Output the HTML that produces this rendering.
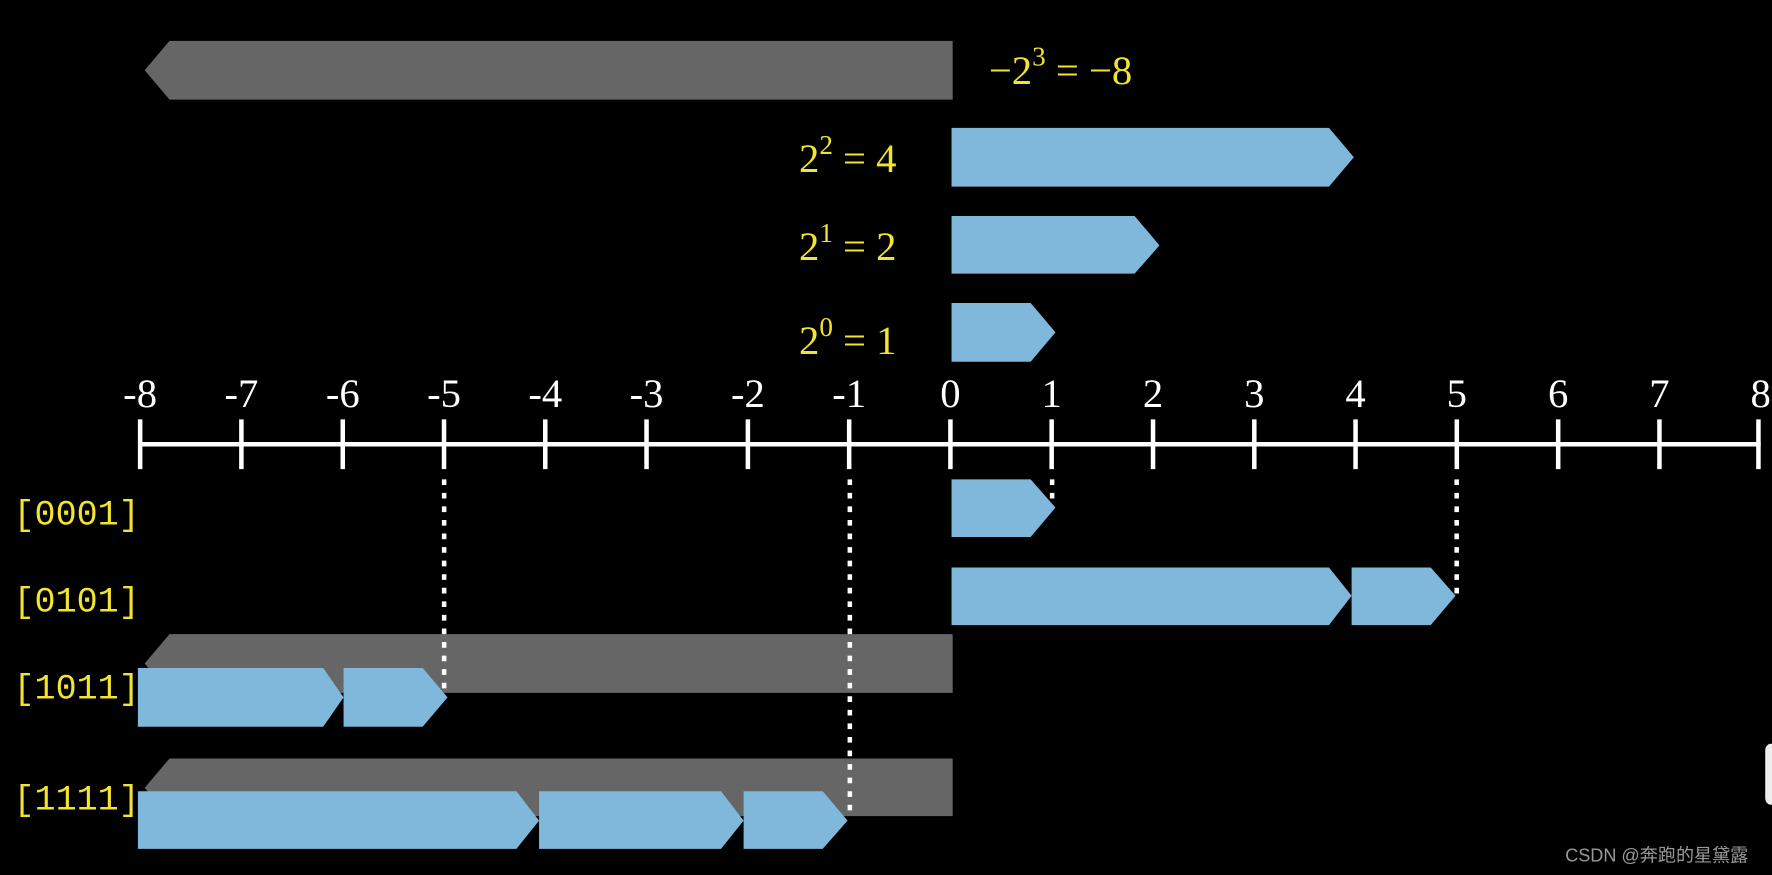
<!DOCTYPE html>
<html><head><meta charset="utf-8"><style>
html,body{margin:0;padding:0;background:#000;width:1772px;height:875px;overflow:hidden}
svg{display:block}
.m{font-family:"Liberation Serif",serif;fill:#f2e530;font-size:36px}
.t{font-family:"Liberation Serif",serif;fill:#fff;font-size:36px;text-anchor:middle}
.b{font-family:"Liberation Mono",monospace;fill:#f2e530;font-size:31px}
</style></head><body>
<svg width="1772" height="875" viewBox="0 0 1568 774" xmlns="http://www.w3.org/2000/svg">
<rect width="1568" height="774" fill="#000"/>
<!-- top bars -->
<polygon points="128,62 150,36 843,36 843,88 150,88" fill="#666"/>
<polygon points="842,113 1176,113 1198,139 1176,165 842,165" fill="#7fb8db"/>
<polygon points="842,191 1004,191 1026,217 1004,242 842,242" fill="#7fb8db"/>
<polygon points="842,268 912,268 934,294 912,320 842,320" fill="#7fb8db"/>
<text class="m" x="875" y="74">−2<tspan font-size="24" dy="-16">3</tspan><tspan dy="16"> = −8</tspan></text>
<text class="m" x="707" y="152">2<tspan font-size="24" dy="-16">2</tspan><tspan dy="16"> = 4</tspan></text>
<text class="m" x="707" y="230">2<tspan font-size="24" dy="-16">1</tspan><tspan dy="16"> = 2</tspan></text>
<text class="m" x="707" y="313">2<tspan font-size="24" dy="-16">0</tspan><tspan dy="16"> = 1</tspan></text>
<!-- axis -->
<g stroke="#fff" stroke-width="4">
<line x1="124" y1="393" x2="1558" y2="393"/>
<line x1="124.0" y1="371" x2="124.0" y2="415"/><line x1="213.6" y1="371" x2="213.6" y2="415"/><line x1="303.3" y1="371" x2="303.3" y2="415"/><line x1="392.9" y1="371" x2="392.9" y2="415"/><line x1="482.5" y1="371" x2="482.5" y2="415"/><line x1="572.1" y1="371" x2="572.1" y2="415"/><line x1="661.8" y1="371" x2="661.8" y2="415"/><line x1="751.4" y1="371" x2="751.4" y2="415"/><line x1="841.0" y1="371" x2="841.0" y2="415"/><line x1="930.6" y1="371" x2="930.6" y2="415"/><line x1="1020.3" y1="371" x2="1020.3" y2="415"/><line x1="1109.9" y1="371" x2="1109.9" y2="415"/><line x1="1199.5" y1="371" x2="1199.5" y2="415"/><line x1="1289.1" y1="371" x2="1289.1" y2="415"/><line x1="1378.8" y1="371" x2="1378.8" y2="415"/><line x1="1468.4" y1="371" x2="1468.4" y2="415"/><line x1="1556" y1="371" x2="1556" y2="415"/>
</g>
<g class="t">
<text class="t" x="124" y="360">-8</text><text class="t" x="213.6" y="360">-7</text><text class="t" x="303.3" y="360">-6</text><text class="t" x="392.9" y="360">-5</text><text class="t" x="482.5" y="360">-4</text><text class="t" x="572.1" y="360">-3</text><text class="t" x="661.8" y="360">-2</text><text class="t" x="751.4" y="360">-1</text><text class="t" x="841" y="360">0</text><text class="t" x="930.6" y="360">1</text><text class="t" x="1020.3" y="360">2</text><text class="t" x="1109.9" y="360">3</text><text class="t" x="1199.5" y="360">4</text><text class="t" x="1289.1" y="360">5</text><text class="t" x="1378.8" y="360">6</text><text class="t" x="1468.4" y="360">7</text><text class="t" x="1558" y="360">8</text>
</g>
<!-- rows -->
<polygon points="842,424 912,424 934,449 912,475 842,475" fill="#7fb8db"/>
<polygon points="842,502 1176,502 1196,527 1176,553 842,553" fill="#7fb8db"/>
<polygon points="1196,502 1266,502 1288,527 1266,553 1196,553" fill="#7fb8db"/>
<polygon points="128,587 150,561 843,561 843,613 150,613" fill="#666"/>
<polygon points="122,591 286,591 304,617 286,643 122,643" fill="#7fb8db"/>
<polygon points="304,591 374,591 396,617 374,643 304,643" fill="#7fb8db"/>
<polygon points="128,697 150,671 843,671 843,722 150,722" fill="#666"/>
<polygon points="122,700 457,700 477,726 457,751 122,751" fill="#7fb8db"/>
<polygon points="477,700 638,700 658,726 638,751 477,751" fill="#7fb8db"/>
<polygon points="658,700 728,700 750,726 728,751 658,751" fill="#7fb8db"/>
<g stroke="#fff" stroke-width="4" stroke-dasharray="5 7">
<line x1="393" y1="424" x2="393" y2="613"/>
<line x1="752" y1="424" x2="752" y2="720"/>
<line x1="1289" y1="424" x2="1289" y2="527"/>
<line x1="931" y1="424" x2="931" y2="445"/>
</g>
<text class="b" x="12" y="464">[0001]</text>
<text class="b" x="12" y="541">[0101]</text>
<text class="b" x="12" y="618">[1011]</text>
<text class="b" x="12" y="716">[1111]</text>
<rect x="1562" y="658" width="10" height="54" rx="6" fill="#eee"/>
<text x="1385" y="762" font-family="Liberation Sans,'Noto Sans CJK SC',sans-serif" font-size="16" fill="#999">CSDN @奔跑的星黛露</text>
</svg>
</body></html>
